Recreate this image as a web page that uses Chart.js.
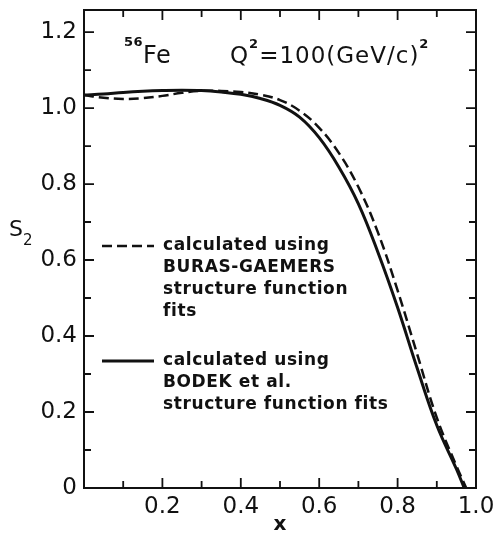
<!DOCTYPE html>
<html>
<head>
<meta charset="utf-8">
<title>S2 for 56Fe</title>
<script src="https://cdn.jsdelivr.net/npm/chart.js@4/dist/chart.umd.min.js"></script>
<style>
  html, body { margin: 0; padding: 0; background: #fff; }
  #wrap { width: 500px; height: 537px; }
</style>
</head>
<body>
<div id="wrap"><canvas id="chart"></canvas></div>
<script>
// S2 vs x for 56Fe at Q^2 = 100 (GeV/c)^2
var xBodek = [0, 0.05, 0.1, 0.15, 0.2, 0.25, 0.3, 0.35, 0.4, 0.45, 0.5, 0.55, 0.6, 0.65, 0.7, 0.75, 0.8, 0.85, 0.9, 0.95, 0.97];
var s2Bodek = [1.034, 1.037, 1.041, 1.044, 1.046, 1.047, 1.046, 1.042, 1.036, 1.025, 1.007, 0.976, 0.922, 0.845, 0.748, 0.62, 0.475, 0.315, 0.165, 0.05, 0.0];

var xBuras = [0, 0.05, 0.1, 0.15, 0.2, 0.25, 0.3, 0.35, 0.4, 0.45, 0.5, 0.55, 0.6, 0.65, 0.7, 0.75, 0.8, 0.85, 0.9, 0.95, 0.975];
var s2Buras = [1.034, 1.027, 1.024, 1.026, 1.032, 1.040, 1.045, 1.045, 1.042, 1.035, 1.021, 0.993, 0.948, 0.882, 0.792, 0.672, 0.52, 0.352, 0.185, 0.058, 0.0];

var xTickValues = [0.2, 0.4, 0.6, 0.8, 1.0];
var xTickLabels = ['0.2', '0.4', '0.6', '0.8', '1.0'];
var yTickValues = [0, 0.2, 0.4, 0.6, 0.8, 1.0, 1.2];
var yTickLabels = ['0', '0.2', '0.4', '0.6', '0.8', '1.0', '1.2'];

// small inward marks every 0.1 on all four sides
var xMarks = [0.1, 0.2, 0.3, 0.4, 0.5, 0.6, 0.7, 0.8, 0.9];
var yMarks = [0.1, 0.2, 0.3, 0.4, 0.5, 0.6, 0.7, 0.8, 0.9, 1.0, 1.1, 1.2];

var ink = '#111';
var numFont = '"DejaVu Sans", sans-serif';

function toPoints(xs, ys) {
  return xs.map(function (x, i) { return { x: x, y: ys[i] }; });
}

var frameTicks = {
  id: 'frameTicks',
  afterDraw: function (chart) {
    var ctx = chart.ctx, a = chart.chartArea;
    var sx = chart.scales.x, sy = chart.scales.y;
    ctx.save();
    ctx.strokeStyle = ink;
    ctx.lineWidth = 2;
    ctx.strokeRect(a.left, a.top, a.right - a.left, a.bottom - a.top);
    ctx.lineWidth = 1.8;
    ctx.beginPath();
    xMarks.forEach(function (v) {
      var len = Math.round(v * 10) % 2 === 0 ? 10 : 7;
      var px = sx.getPixelForValue(v);
      ctx.moveTo(px, a.bottom); ctx.lineTo(px, a.bottom - len);
      ctx.moveTo(px, a.top); ctx.lineTo(px, a.top + len);
    });
    yMarks.forEach(function (v) {
      var len = Math.round(v * 10) % 2 === 0 ? 10 : 7;
      var py = sy.getPixelForValue(v);
      ctx.moveTo(a.left, py); ctx.lineTo(a.left + len, py);
      ctx.moveTo(a.right, py); ctx.lineTo(a.right - len, py);
    });
    ctx.stroke();
    ctx.restore();
  }
};

// writes a run of [text, size, rise] pieces one after another
function writeRun(ctx, x, y, pieces, spacing) {
  ctx.letterSpacing = spacing + 'px';
  pieces.forEach(function (p) {
    ctx.font = p[1] + 'px ' + numFont;
    ctx.fillText(p[0], x, y - p[2]);
    x += ctx.measureText(p[0]).width;
  });
  ctx.letterSpacing = '0px';
}

var notes = {
  id: 'notes',
  afterDraw: function (chart) {
    var ctx = chart.ctx;
    var ds = chart.data.datasets;
    ctx.save();
    ctx.fillStyle = ink;
    ctx.textBaseline = 'alphabetic';
    ctx.textAlign = 'left';

    // header: nucleus and Q^2
    writeRun(ctx, 124, 63, [['56', 'bold 13', 17], ['Fe', 24, 0]], 0.5);
    writeRun(ctx, 230, 63, [['Q', 23, 0], ['2', 'bold 13', 15], ['=100(GeV/c)', 23, 0], ['2', 'bold 13', 15]], 1);

    // y axis name
    writeRun(ctx, 9, 236, [['S', 22, 0], ['2', 15, -9]], 0);

    // legend entries
    var rows = [
      { ds: ds[1], y: 246, lines: ['calculated using', 'BURAS-GAEMERS', 'structure function', 'fits'] },
      { ds: ds[0], y: 361, lines: ['calculated using', 'BODEK et al.', 'structure function fits'] }
    ];
    rows.forEach(function (r) {
      ctx.beginPath();
      ctx.strokeStyle = ink;
      ctx.lineWidth = r.ds.borderWidth;
      ctx.setLineDash(r.ds.borderDash || []);
      ctx.moveTo(102, r.y);
      ctx.lineTo(154, r.y);
      ctx.stroke();
      ctx.setLineDash([]);
      ctx.font = 'bold 17px ' + numFont;
      ctx.letterSpacing = '0.6px';
      ctx.textBaseline = 'middle';
      r.lines.forEach(function (t, i) {
        ctx.fillText(t, 163, r.y + i * 22);
      });
      ctx.letterSpacing = '0px';
      ctx.textBaseline = 'alphabetic';
    });
    ctx.restore();
  }
};

new Chart(document.getElementById('chart'), {
  type: 'line',
  data: {
    datasets: [{
      label: 'calculated using BODEK et al. structure function fits',
      data: toPoints(xBodek, s2Bodek),
      borderColor: ink,
      borderWidth: 3,
      pointRadius: 0,
      tension: 0.4,
      fill: false
    }, {
      label: 'calculated using BURAS-GAEMERS structure function fits',
      data: toPoints(xBuras, s2Buras),
      borderColor: ink,
      borderWidth: 2.5,
      borderDash: [10, 5],
      pointRadius: 0,
      tension: 0.4,
      fill: false
    }]
  },
  options: {
    responsive: true,
    maintainAspectRatio: false,
    animation: false,
    layout: { padding: { top: 10, right: 24, left: 0, bottom: 0 } },
    plugins: { legend: { display: false }, tooltip: { enabled: false } },
    scales: {
      x: {
        type: 'linear',
        min: 0,
        max: 1.0,
        grid: { display: false, drawTicks: false },
        border: { display: false },
        afterBuildTicks: function (scale) {
          scale.ticks = xTickValues.map(function (v) { return { value: v }; });
        },
        afterFit: function (scale) {
          scale.height = 49;
          scale.paddingLeft = 0;
          scale.paddingRight = 0;
        },
        ticks: {
          padding: 5,
          color: ink,
          font: { family: numFont, size: 23 },
          callback: function (v) { return xTickLabels[xTickValues.indexOf(v)]; }
        },
        title: {
          display: true,
          text: 'x',
          color: ink,
          font: { family: numFont, size: 20, weight: 'bold' },
          padding: { top: 0, bottom: 0 }
        }
      },
      y: {
        type: 'linear',
        min: 0,
        max: 1.258,
        grid: { display: false, drawTicks: false },
        border: { display: false },
        afterBuildTicks: function (scale) {
          scale.ticks = yTickValues.map(function (v) { return { value: v }; });
        },
        afterFit: function (scale) {
          scale.width = 84;
          scale.paddingTop = 0;
          scale.paddingBottom = 0;
        },
        ticks: {
          padding: 7,
          color: ink,
          font: { family: numFont, size: 23 },
          callback: function (v) { return yTickLabels[yTickValues.indexOf(v)]; }
        }
      }
    }
  },
  plugins: [frameTicks, notes]
});
</script>
</body>
</html>
